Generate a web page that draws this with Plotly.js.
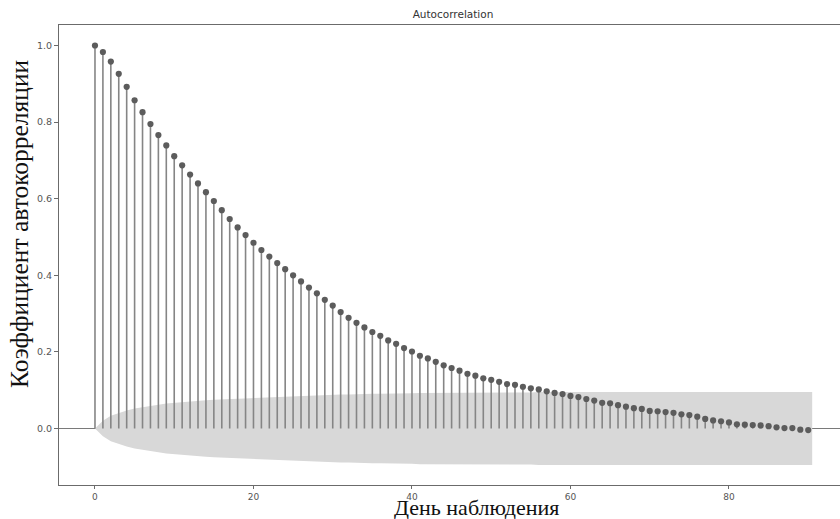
<!DOCTYPE html>
<html>
<head>
<meta charset="utf-8">
<script src="https://cdn.plot.ly/plotly-3.0.1.min.js"></script>
<style>
  html, body { margin: 0; padding: 0; background: #ffffff; }
  #chart { width: 840px; height: 519px; }
</style>
</head>
<body>
<div id="chart"></div>
<script>
// Lags 0..90 of the sample autocorrelation function
const lags = Array.from({length: 91}, (_, i) => i);

const acfValues = [
  1.000, 0.983, 0.958, 0.926, 0.892, 0.857, 0.826, 0.795, 0.766, 0.739,
  0.711, 0.687, 0.663, 0.640, 0.617, 0.594, 0.570, 0.547, 0.525, 0.505,
  0.485, 0.466, 0.449, 0.432, 0.416, 0.400, 0.384, 0.368, 0.353, 0.336,
  0.321, 0.304, 0.289, 0.276, 0.264, 0.252, 0.242, 0.230, 0.221, 0.210,
  0.201, 0.190, 0.183, 0.174, 0.165, 0.158, 0.151, 0.143, 0.138, 0.131,
  0.127, 0.122, 0.116, 0.114, 0.109, 0.105, 0.102, 0.097, 0.093, 0.090,
  0.085, 0.082, 0.077, 0.073, 0.067, 0.066, 0.061, 0.057, 0.053, 0.051,
  0.046, 0.045, 0.043, 0.041, 0.037, 0.035, 0.031, 0.025, 0.021, 0.019,
  0.016, 0.011, 0.010, 0.009, 0.008, 0.006, 0.003, 0.001, 0.001, -0.003,
  -0.004
];

// Half-width of the 95% confidence band around zero, per lag
const confHalfWidth = [
  0.000, 0.020, 0.033, 0.041, 0.047, 0.052, 0.056, 0.059, 0.062, 0.065,
  0.067, 0.069, 0.071, 0.072, 0.074, 0.075, 0.076, 0.077, 0.078, 0.079,
  0.080, 0.081, 0.082, 0.083, 0.084, 0.085, 0.086, 0.086, 0.087, 0.088,
  0.088, 0.089, 0.089, 0.090, 0.090, 0.091, 0.091, 0.091, 0.092, 0.092,
  0.092, 0.093, 0.093, 0.093, 0.093, 0.093, 0.094, 0.094, 0.094, 0.094,
  0.094, 0.094, 0.094, 0.094, 0.094, 0.094, 0.095, 0.095, 0.095, 0.095,
  0.095, 0.095, 0.095, 0.095, 0.095, 0.095, 0.095, 0.095, 0.095, 0.095,
  0.095, 0.095, 0.095, 0.095, 0.095, 0.095, 0.095, 0.095, 0.095, 0.095,
  0.095, 0.095, 0.095, 0.095, 0.095, 0.095, 0.095, 0.095, 0.095, 0.095,
  0.095
];

const xTickValues = [0, 20, 40, 60, 80];
const yTickValues = [0.0, 0.2, 0.4, 0.6, 0.8, 1.0];
const yTickLabels = ['0.0', '0.2', '0.4', '0.6', '0.8', '1.0'];

const chartTitle = 'Autocorrelation';
const xTitle = 'День наблюдения';
const yTitle = 'Коэффициент автокорреляции';

// The band reaches half a lag past the last one
const bandX = lags.slice();
bandX[bandX.length - 1] += 0.5;
const bandLower = confHalfWidth.map(v => -v);

// Vertical stems from zero to each value, separated by gaps
const stemX = [], stemY = [];
lags.forEach((lag, i) => {
  stemX.push(lag, lag, null);
  stemY.push(0, acfValues[i], null);
});

const traces = [
  {
    x: bandX, y: bandLower, type: 'scatter', mode: 'lines',
    line: {width: 0, color: 'rgba(0,0,0,0)'},
    hoverinfo: 'skip', showlegend: false
  },
  {
    x: bandX, y: confHalfWidth, type: 'scatter', mode: 'lines',
    line: {width: 0, color: 'rgba(0,0,0,0)'},
    fill: 'tonexty', fillcolor: '#d8d8d8',
    hoverinfo: 'skip', showlegend: false
  },
  {
    x: stemX, y: stemY, type: 'scatter', mode: 'lines',
    line: {color: '#858585', width: 1.6},
    hoverinfo: 'skip', showlegend: false
  },
  {
    x: lags, y: acfValues, type: 'scatter', mode: 'markers',
    marker: {color: '#5c5c5c', size: 6.2},
    showlegend: false
  }
];

const axisColor = '#6b6b6b';
const tickFont = {family: 'DejaVu Sans, sans-serif', size: 9.5, color: '#555555'};
const xTickFont = {family: 'DejaVu Sans, sans-serif', size: 9, color: '#555555'};
const serifFamily = 'Liberation Serif, Times New Roman, serif';

const layout = {
  width: 840, height: 519,
  margin: {l: 59, r: 0, t: 25, b: 34, pad: 0},
  paper_bgcolor: '#ffffff', plot_bgcolor: '#ffffff',
  showlegend: false,
  title: {
    text: chartTitle,
    font: {family: 'DejaVu Sans, sans-serif', size: 10.5, color: '#333333'},
    xref: 'paper', x: 0.5045, xanchor: 'center',
    yref: 'container', y: 1 - 14 / 519, yanchor: 'middle'
  },
  xaxis: {
    range: [-4.54, 94.01],
    tickvals: xTickValues,
    ticks: 'outside', ticklen: 3, tickwidth: 1, tickcolor: axisColor,
    tickfont: xTickFont,
    showgrid: false, zeroline: false,
    showline: true, linecolor: axisColor, linewidth: 1, mirror: true
  },
  yaxis: {
    range: [-0.1475, 1.0535],
    tickvals: yTickValues, ticktext: yTickLabels,
    ticks: 'outside', ticklen: 4, tickwidth: 1, tickcolor: axisColor,
    tickfont: tickFont,
    showgrid: false,
    zeroline: true, zerolinecolor: '#7a7a7a', zerolinewidth: 1.6,
    showline: true, linecolor: axisColor, linewidth: 1, mirror: false
  },
  annotations: [
    {
      text: xTitle, showarrow: false,
      font: {family: serifFamily, size: 22, color: '#111111'},
      xref: 'paper', yref: 'paper',
      x: (476 - 59) / 781, y: (485 - 522) / 460,
      xanchor: 'center', yanchor: 'bottom'
    },
    {
      text: yTitle, showarrow: false, textangle: -90,
      font: {family: serifFamily, size: 25.5, color: '#111111'},
      xref: 'paper', yref: 'paper',
      x: (20 - 59) / 781, y: (485 - 224) / 460,
      xanchor: 'center', yanchor: 'middle'
    }
  ]
};

Plotly.newPlot('chart', traces, layout, {displayModeBar: false, staticPlot: true});
</script>
</body>
</html>
